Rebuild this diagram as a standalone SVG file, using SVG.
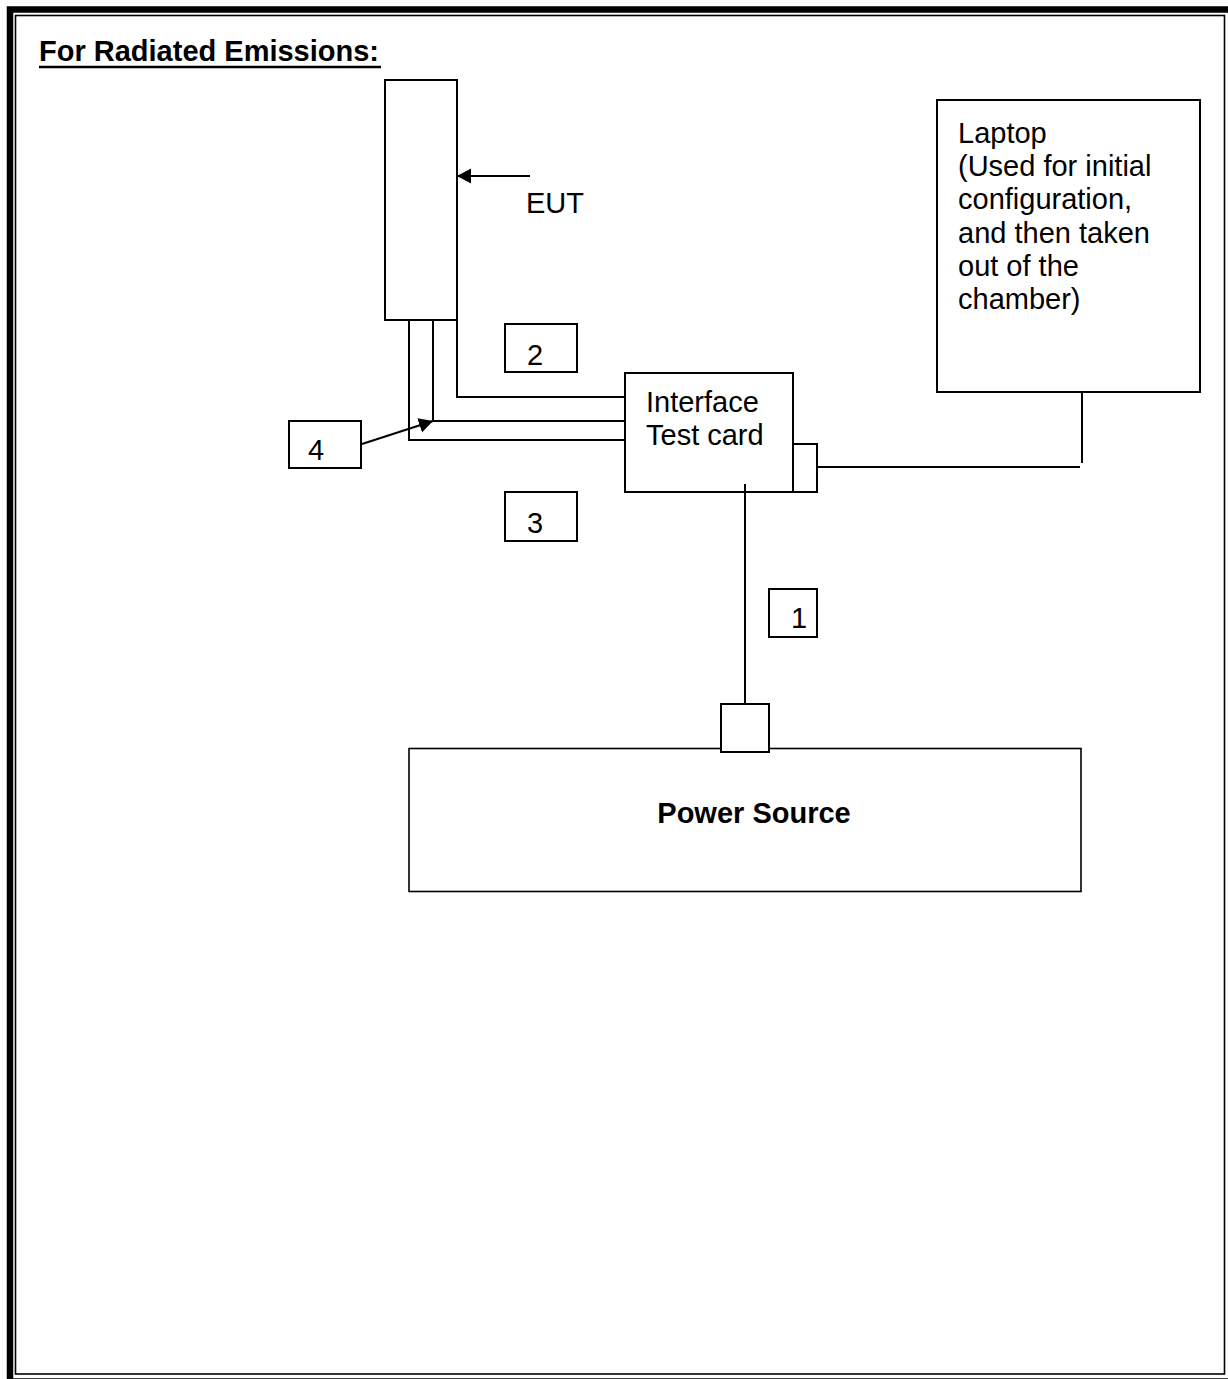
<svg xmlns="http://www.w3.org/2000/svg" width="1228" height="1379" viewBox="0 0 1228 1379">
<defs>
<style>
.ln{fill:none;stroke:#000;stroke-width:2}
.bx{fill:#fff;stroke:#000;stroke-width:2}
.t{font-family:"Liberation Sans",Arial,sans-serif;font-size:29px;fill:#000}
.b{font-weight:bold}
</style>
<marker id="ah" markerWidth="16" markerHeight="16" refX="14" refY="7.5" orient="auto" markerUnits="userSpaceOnUse">
<path d="M0,0 L14,7.5 L0,15 Z" fill="#000"/>
</marker>
</defs>
<rect width="1228" height="1379" fill="#fff"/>
<g id="frame">
<rect x="10" y="9.5" width="1222" height="1372" fill="none" stroke="#000" stroke-width="6.5"/>
<rect x="15.5" y="15.5" width="1209" height="1358.5" fill="none" stroke="#000" stroke-width="1.6"/>
</g>
<g id="heading">
<text class="t b" x="39" y="61">For Radiated Emissions:</text>
<line x1="39" y1="67" x2="381" y2="67" stroke="#000" stroke-width="2.6"/>
</g>
<g id="connectors">
<polyline class="ln" points="457,320 457,397 625,397"/>
<polyline class="ln" points="433,320 433,421 625,421"/>
<polyline class="ln" points="409,320 409,440 625,440"/>
<line class="ln" x1="745" y1="484" x2="745" y2="704"/>
<line class="ln" x1="817" y1="467" x2="1080" y2="467"/>
<line class="ln" x1="1082" y1="392" x2="1082" y2="463"/>
<line class="ln" x1="530" y1="176" x2="457" y2="176" marker-end="url(#ah)"/>
<line class="ln" x1="362" y1="444" x2="433" y2="421" marker-end="url(#ah)"/>
</g>
<g id="eut">
<rect class="bx" x="385" y="80" width="72" height="240"/>
<text class="t" x="526" y="213">EUT</text>
</g>
<g id="laptop">
<rect class="bx" x="937" y="100" width="263" height="292"/>
<text class="t" x="958" y="143">Laptop</text>
<text class="t" x="958" y="176">(Used for initial</text>
<text class="t" x="958" y="209">configuration,</text>
<text class="t" x="958" y="243">and then taken</text>
<text class="t" x="958" y="276">out of the</text>
<text class="t" x="958" y="309">chamber)</text>
</g>
<g id="interface">
<rect class="ln" x="625" y="373" width="168" height="119"/>
<rect class="ln" x="793" y="444" width="24" height="48"/>
<text class="t" x="646" y="412">Interface</text>
<text class="t" x="646" y="445">Test card</text>
</g>
<g id="power">
<rect x="409" y="748.5" width="672" height="143" fill="none" stroke="#000" stroke-width="1.6"/>
<rect class="bx" x="721" y="704" width="48" height="48"/>
<text class="t b" x="754" y="823" text-anchor="middle">Power Source</text>
</g>
<g id="label2"><rect class="bx" x="505" y="324" width="72" height="48"/><text class="t" x="527" y="365">2</text></g>
<g id="label4"><rect class="bx" x="289" y="421" width="72" height="47"/><text class="t" x="308" y="460">4</text></g>
<g id="label3"><rect class="bx" x="505" y="492" width="72" height="49"/><text class="t" x="527" y="533">3</text></g>
<g id="label1"><rect class="bx" x="769" y="589" width="48" height="48"/><text class="t" x="791" y="628">1</text></g>
</svg>
